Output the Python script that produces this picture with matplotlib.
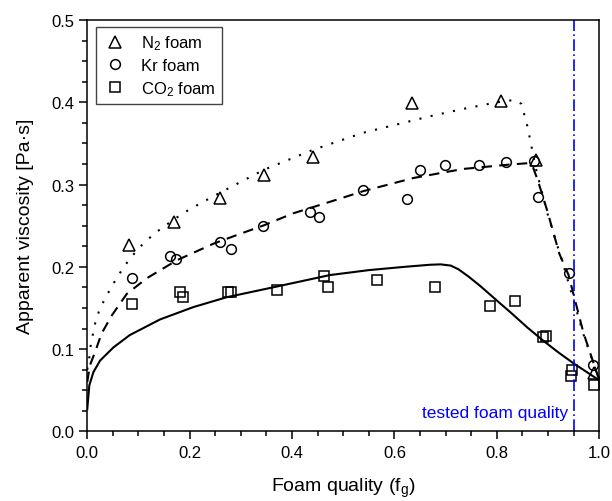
import matplotlib.pyplot as plt
from matplotlib.ticker import MultipleLocator

plt.rcParams['font.family'] = ['Liberation Sans', 'DejaVu Sans']
plt.rcParams['mathtext.fontset'] = 'custom'
plt.rcParams['mathtext.rm'] = 'Liberation Sans'
plt.rcParams['mathtext.it'] = 'Liberation Sans'

# measured points
n2_x = [0.082, 0.170, 0.259, 0.345, 0.440, 0.635, 0.808, 0.876, 0.989]
n2_y = [0.227, 0.255, 0.284, 0.312, 0.334, 0.399, 0.402, 0.330, 0.071]

kr_x = [0.087, 0.161, 0.173, 0.260, 0.281, 0.343, 0.435, 0.452, 0.538, 0.625,
        0.650, 0.699, 0.765, 0.817, 0.872, 0.880, 0.941, 0.987]
kr_y = [0.187, 0.213, 0.210, 0.230, 0.222, 0.250, 0.267, 0.260, 0.293, 0.282,
        0.318, 0.324, 0.324, 0.327, 0.329, 0.285, 0.193, 0.081]

co2_x = [0.088, 0.182, 0.186, 0.275, 0.280, 0.371, 0.462, 0.470, 0.566, 0.679,
         0.787, 0.835, 0.891, 0.896, 0.947, 0.945, 0.989]
co2_y = [0.155, 0.169, 0.163, 0.169, 0.170, 0.172, 0.189, 0.176, 0.184, 0.175,
         0.152, 0.159, 0.115, 0.116, 0.075, 0.067, 0.056]

# model curves
n2_fit_x = [0.0, 0.004, 0.007, 0.012, 0.017, 0.026, 0.044, 0.061, 0.083, 0.106,
            0.13, 0.17, 0.20, 0.259, 0.345, 0.44, 0.539, 0.604, 0.669, 0.734,
            0.80, 0.835, 0.848, 0.86, 0.876, 0.90, 0.93, 0.969, 1.0]
n2_fit_y = [0.075, 0.090, 0.106, 0.121, 0.136, 0.151, 0.172, 0.190, 0.210, 0.226,
            0.240, 0.258, 0.270, 0.290, 0.318, 0.342, 0.363, 0.373, 0.383, 0.392,
            0.400, 0.403, 0.398, 0.370, 0.320, 0.262, 0.202, 0.118, 0.062]

kr_fit_x = [0.0, 0.005, 0.015, 0.028, 0.048, 0.077, 0.116, 0.175, 0.246, 0.298,
            0.343, 0.402, 0.494, 0.539, 0.637, 0.734, 0.819, 0.860, 0.870, 0.880,
            0.898, 0.922, 0.94, 0.969, 1.0]
kr_fit_y = [0.060, 0.080, 0.096, 0.119, 0.141, 0.167, 0.186, 0.208, 0.228, 0.240,
            0.250, 0.265, 0.283, 0.292, 0.308, 0.319, 0.324, 0.326, 0.322, 0.305,
            0.269, 0.216, 0.190, 0.120, 0.062]

co2_fit_x = [0.0, 0.004, 0.012, 0.025, 0.051, 0.083, 0.142, 0.207, 0.272, 0.370,
             0.474, 0.55, 0.62, 0.669, 0.69, 0.71, 0.725, 0.745, 0.767, 0.80,
             0.826, 0.86, 0.891, 0.92, 0.949, 1.0]
co2_fit_y = [0.027, 0.056, 0.072, 0.086, 0.102, 0.117, 0.136, 0.151, 0.163, 0.176,
             0.190, 0.196, 0.200, 0.2025, 0.203, 0.2015, 0.197, 0.188, 0.177, 0.159,
             0.145, 0.126, 0.110, 0.096, 0.083, 0.062]

tested_quality = 0.95

fig = plt.figure(figsize=(6.12, 5.02), dpi=100)
ax = fig.add_axes([0.1426, 0.1388, 0.8366, 0.8192])

ax.plot(n2_fit_x, n2_fit_y, color='black', lw=1.5, linestyle=(0, (1, 4.5)))
ax.plot(kr_fit_x, kr_fit_y, color='black', lw=1.5, linestyle=(0, (5, 3.5)))
ax.plot(co2_fit_x, co2_fit_y, color='black', lw=1.5)

ax.plot(n2_x, n2_y, '^', ms=8.5, mfc='none', mec='black', mew=1.1, label='N$_2$ foam')
ax.plot(kr_x, kr_y, 'o', ms=7, mfc='none', mec='black', mew=1.1, label='Kr foam')
ax.plot(co2_x, co2_y, 's', ms=6.5, mfc='none', mec='black', mew=1.1, label='CO$_2$ foam')

ax.axvline(tested_quality, color='#0000ff', lw=1.2, linestyle=(0, (7, 2, 1, 2)))
ax.text(0.94, 0.023, 'tested foam quality', color='#0000ff', fontsize=12.5,
        ha='right', va='center')

ax.set_xlim(0, 1.0)
ax.set_ylim(0, 0.5)
ax.xaxis.set_major_locator(MultipleLocator(0.2))
ax.xaxis.set_minor_locator(MultipleLocator(0.05))
ax.yaxis.set_major_locator(MultipleLocator(0.1))
ax.yaxis.set_minor_locator(MultipleLocator(0.025))
ax.xaxis.set_major_formatter(plt.FormatStrFormatter('%.1f'))
ax.yaxis.set_major_formatter(plt.FormatStrFormatter('%.1f'))
ax.tick_params(which='major', direction='out', length=6, width=1.1, labelsize=12)
ax.tick_params(which='minor', direction='out', length=3.5, width=1.1)
for s in ax.spines.values():
    s.set_linewidth(1.1)

ax.set_xlabel('Foam quality (f$_g$)', fontsize=14, labelpad=12)
ax.set_ylabel('Apparent viscosity [Pa\u00b7s]', fontsize=14, labelpad=12)

leg = ax.legend(loc='upper left', bbox_to_anchor=(0.017, 0.983), borderaxespad=0,
                fontsize=12, fancybox=False, framealpha=1, edgecolor='#444444',
                handletextpad=0.8, borderpad=0.4, labelspacing=0.35, handlelength=1.5)
leg.get_frame().set_linewidth(1.0)

fig.savefig('out.png', dpi=100)
